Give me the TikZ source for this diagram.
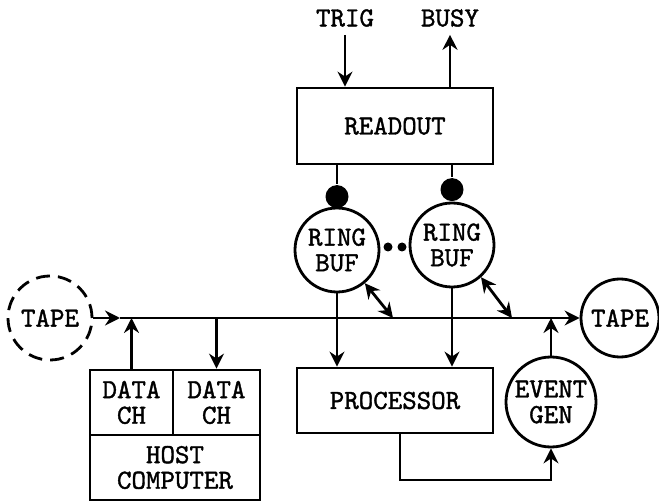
\documentclass[tikz,border=0pt]{standalone}
\usepackage{fontspec}
\newfontfamily\tyfont{lmmono10-regular.otf}[FakeBold=1.3]
\usetikzlibrary{arrows.meta,positioning}

\begin{document}
\begin{tikzpicture}[x=0.5pt,y=-0.5pt,>={Stealth[length=7.5pt,width=7.5pt,inset=2.5pt]},line width=1.4pt,
  every node/.style={font=\tyfont\fontsize{13.8}{12.8}\selectfont,align=center},
  box/.style={rectangle,draw,inner sep=0pt},
  buf/.style={circle,draw,inner sep=0pt,minimum size=42pt},
  blob/.style={circle,fill,inner sep=0pt,minimum size=11.5pt}]
\useasboundingbox (0,0) rectangle (659,502);
% Readout and ring buffers
\node (trig) at (345,18) {TRIG};
\node (busy) at (450,18) {BUSY};
\node[box,minimum width=98pt,minimum height=38pt] (readout) at (395,126) {READOUT};
\draw[->] (trig) -- (trig |- readout.north);
\draw[->] (busy |- readout.north) -- (busy);
\node[buf] (rb1) at (337,250) {RING\\BUF};
\node[buf] (rb2) at (452,245) {RING\\BUF};
\node[blob] (k1) at ([yshift=5pt]rb1.north) {};
\node[blob] (k2) at ([yshift=6pt]rb2.north) {};
\draw (readout.south -| k1) -- (k1);
\draw (readout.south -| k2) -- (k2);
\node[blob,minimum size=4.5pt] (e1) at (388,247) {};
\node[blob,minimum size=4.5pt] (e2) at (402,247) {};

% Data bus
\node[buf,dashed,dash pattern=on 7pt off 4pt] (tapeL) at (50,318) {TAPE};
\node[buf,minimum size=39pt] (tapeR) at (620,318) {TAPE};
\coordinate (b0) at (120,318);
\coordinate (b1) at (393,318);
\coordinate (b2) at (512,318);
\draw[->] (tapeL) -- (b0);
\draw[->] (b0) -- (tapeR);
\draw[<->] (rb1.-50) -- (b1);
\draw[<->] (rb2.-48) -- (b2);

% Host computer
\node[box,minimum width=85pt,minimum height=32.5pt] (host) at (175,467.5) {HOST\\COMPUTER};
\node[box,minimum width=41.5pt,minimum height=32.5pt] (dc1) at (131.5,402.5) {DATA\\CH};
\node[box,minimum width=43.5pt,minimum height=32.5pt] (dc2) at (216.5,402.5) {DATA\\CH};
\draw[->] (dc1) -- (dc1 |- b0);
\draw[->] (dc2 |- b0) -- (dc2);

% Processor and event generator
\node[box,minimum width=98pt,minimum height=32.5pt] (proc) at (395,400.5) {PROCESSOR};
\draw[->] (rb1) -- (rb1 |- proc.north);
\draw[->] (rb2) -- (rb2 |- proc.north);
\node[buf,minimum size=45pt] (evt) at (551,402) {EVENT\\GEN};
\draw[->] (evt) -- (evt |- b0);
\coordinate (c1) at (400,480);
\draw[->] (proc.south -| c1) -- (c1) -| (evt.south);
\end{tikzpicture}
\end{document}
